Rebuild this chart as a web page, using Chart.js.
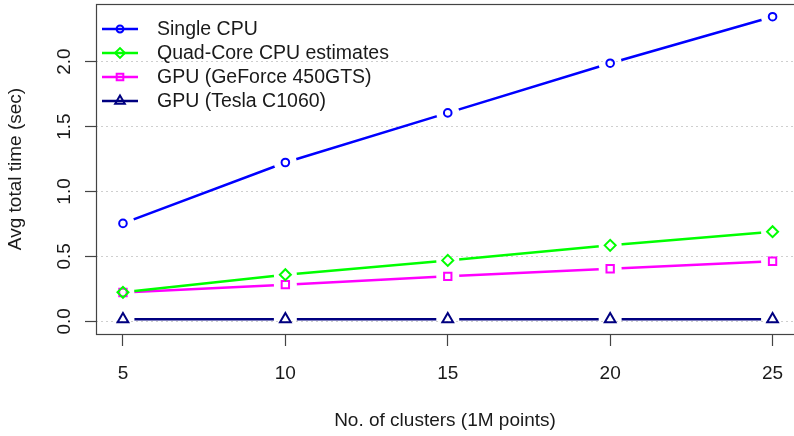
<!DOCTYPE html>
<html><head><meta charset="utf-8">
<script src="https://cdn.jsdelivr.net/npm/chart.js@4/dist/chart.umd.min.js"></script>
<style>html,body{margin:0;padding:0;background:#fff}#wrap{width:794px;height:436px;position:relative}</style>
</head><body><div id="wrap"><canvas id="c"></canvas></div>
<script>
const clusters = [5, 10, 15, 20, 25];
const singleCPU = [0.754, 1.223, 1.605, 1.988, 2.346];
const quadCore = [0.223, 0.359, 0.469, 0.585, 0.690];
const gpuGeForce = [0.222, 0.282, 0.346, 0.405, 0.462];
const gpuTesla = [0.016, 0.016, 0.016, 0.016, 0.016];
const seriesLabels = ['Single CPU', 'Quad-Core CPU estimates', 'GPU (GeForce 450GTS)', 'GPU (Tesla C1060)'];
const xTicks = [5, 10, 15, 20, 25];
const yTicks = [0, 0.5, 1, 1.5, 2];
const yTickLabels = ['0.0', '0.5', '1.0', '1.5', '2.0'];
const xTitle = 'No. of clusters (1M points)';
const yTitle = 'Avg total time (sec)';

const FONT = "'Liberation Sans', Arial, sans-serif";
const GAP = 11.5;
const seriesValues = [singleCPU, quadCore, gpuGeForce, gpuTesla];
const styles = [
  {color: '#0000ff', pointStyle: 'circle', radius: 3.8},
  {color: '#00ff00', pointStyle: 'rectRot', radius: 5.5},
  {color: '#ff00ff', pointStyle: 'rect', radius: 5.2},
  {color: '#000080', pointStyle: 'triangle', radius: 6.2}
];
const toXY = vals => clusters.map((x, i) => ({x: x, y: vals[i]}));

const datasets = [];
seriesValues.forEach((vals, i) => {
  const st = styles[i];
  datasets.push({label: seriesLabels[i], data: toXY(vals), borderColor: st.color, borderWidth: 2.5,
    pointRadius: 0, showLine: true, fill: false, tension: 0, order: 3, clip: false, gapLine: true});
});
seriesValues.forEach((vals, i) => {
  const st = styles[i];
  datasets.push({label: '_mk' + i, data: toXY(vals), showLine: false, pointStyle: st.pointStyle,
    pointRadius: st.radius, pointBorderColor: st.color, pointBackgroundColor: 'rgba(0,0,0,0)',
    pointBorderWidth: 2, order: 1, clip: false});
});

// R type="b": line segments stop short of each point
const gapPlugin = {
  id: 'rgap',
  beforeDatasetDraw(chart, args) {
    const ds = chart.data.datasets[args.index];
    if (!ds.gapLine) return;
    const ctx = chart.ctx;
    ctx.save();
    ctx.beginPath();
    ctx.rect(0, 0, chart.width, chart.height);
    args.meta.data.forEach(p => {
      ctx.moveTo(p.x + GAP, p.y);
      ctx.arc(p.x, p.y, GAP, 0, Math.PI * 2);
      ctx.closePath();
    });
    ctx.clip('evenodd');
    ds._clipped = true;
  },
  afterDatasetDraw(chart, args) {
    const ds = chart.data.datasets[args.index];
    if (ds._clipped) { chart.ctx.restore(); ds._clipped = false; }
  }
};

const boxPlugin = {
  id: 'rbox',
  afterDraw(chart) {
    const a = chart.chartArea, ctx = chart.ctx;
    ctx.save();
    ctx.strokeStyle = '#444'; ctx.lineWidth = 1.2;
    ctx.strokeRect(a.left + 0.5, a.top + 0.5, a.right - a.left + 2, a.bottom - a.top);
    ctx.restore();
  }
};

const legendPlugin = {
  id: 'rlegend',
  afterDraw(chart) {
    const a = chart.chartArea, ctx = chart.ctx;
    seriesLabels.forEach((lab, i) => {
      const st = styles[i];
      const y = a.top + 25 + i * 24;
      ctx.save();
      ctx.strokeStyle = st.color; ctx.lineWidth = 2.5;
      ctx.beginPath(); ctx.moveTo(a.left + 6, y); ctx.lineTo(a.left + 42, y); ctx.stroke();
      ctx.fillStyle = 'rgba(0,0,0,0)'; ctx.lineWidth = 2;
      Chart.helpers.drawPoint(ctx, {pointStyle: st.pointStyle, radius: st.radius * 0.9, borderWidth: 2, rotation: 0}, a.left + 24, y);
      ctx.fillStyle = '#1a1a1a';
      ctx.font = '19.5px ' + FONT;
      ctx.textBaseline = 'middle'; ctx.textAlign = 'left';
      ctx.fillText(lab, a.left + 61, y + 1);
      ctx.restore();
    });
  }
};

new Chart(document.getElementById('c'), {
  type: 'scatter',
  data: {datasets: datasets},
  plugins: [gapPlugin, boxPlugin, legendPlugin],
  options: {
    responsive: true, maintainAspectRatio: false, animation: false, events: [],
    layout: {autoPadding: false, padding: {top: 4, right: 0, left: 0, bottom: 0}},
    plugins: {legend: {display: false}, tooltip: {enabled: false}},
    scales: {
      x: {
        type: 'linear', min: 4.17, max: 25.66,
        afterBuildTicks: s => { s.ticks = xTicks.map(v => ({value: v})); },
        afterFit: s => { s.height = 102; s.paddingLeft = 0; s.paddingRight = 0; },
        ticks: {font: {family: FONT, size: 19}, color: '#1a1a1a', padding: 16, maxRotation: 0, minRotation: 0,
          callback: v => String(v)},
        grid: {drawOnChartArea: false, drawTicks: true, tickLength: 12, tickColor: '#444', tickWidth: 1.2},
        border: {display: false},
        title: {display: true, text: xTitle, font: {family: FONT, size: 19}, color: '#1a1a1a', padding: {top: 0, bottom: 4}}
      },
      y: {
        type: 'linear', min: -0.098, max: 2.444,
        afterBuildTicks: s => { s.ticks = yTicks.map(v => ({value: v})); },
        afterFit: s => { s.width = 96; s.paddingTop = 0; s.paddingBottom = 0; },
        ticks: {font: {family: FONT, size: 19}, color: '#1a1a1a', padding: 7.5, minRotation: 90, maxRotation: 90,
          crossAlign: 'center', callback: v => yTickLabels[yTicks.indexOf(v)]},
        grid: {drawOnChartArea: true, color: '#cfcfcf', lineWidth: 1, drawTicks: true, tickLength: 11, tickColor: '#444', tickWidth: 1.2},
        border: {display: false, dash: [2, 3]},
        title: {display: true, text: yTitle, font: {family: FONT, size: 19}, color: '#1a1a1a', padding: {top: 4, bottom: 0}}
      }
    }
  }
});
</script></body></html>
